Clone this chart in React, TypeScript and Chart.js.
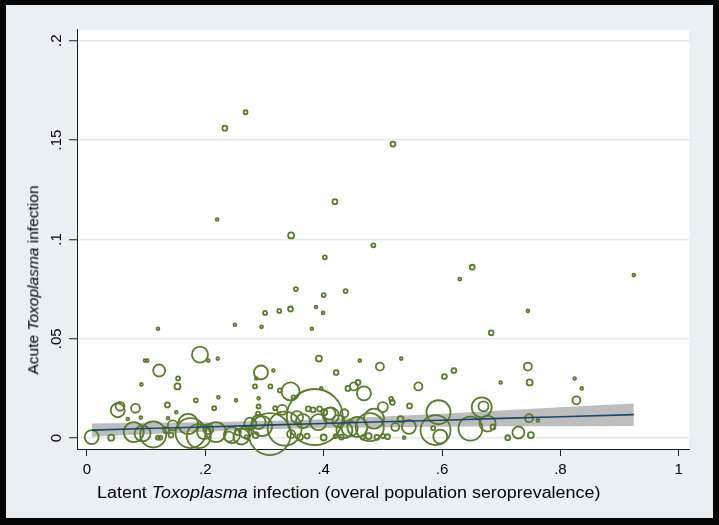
import React, { useEffect, useRef } from 'react';
import { Chart, registerables } from 'chart.js';

Chart.register(...registerables);

const FONT = '"Liberation Sans", Arial, Helvetica, sans-serif';

const xTickValues = [0, 0.2, 0.4, 0.6, 0.8, 1];
const xTickLabels = ['0', '.2', '.4', '.6', '.8', '1'];
const yTickValues = [0, 0.05, 0.1, 0.15, 0.2];
const yTickLabels = ['0', '.05', '.1', '.15', '.2'];

// Latent Toxoplasma seroprevalence (x)
const seroprevalence = [
  0.268, 0.233, 0.517, 0.220, 0.419, 0.345, 0.484, 0.402, 0.924, 0.651, 0.630, 0.353, 0.400, 0.437, 0.301, 0.325, 0.344, 0.387, 0.399, 0.120, 0.250, 0.295, 0.380, 0.745, 0.683,
  0.098, 0.102, 0.191, 0.205, 0.221, 0.122, 0.154, 0.092, 0.294, 0.315, 0.286, 0.392, 0.461, 0.421, 0.495, 0.458, 0.531, 0.745, 0.620, 0.604, 0.824, 0.153, 0.284, 0.310, 0.326, 0.344, 0.396, 0.441, 0.451, 0.560, 0.748, 0.699, 0.836,
  0.052, 0.056, 0.082, 0.069, 0.091, 0.184, 0.222, 0.215, 0.136, 0.151, 0.137, 0.252, 0.290, 0.468, 0.500, 0.545, 0.516, 0.514, 0.667, 0.670, 0.677, 0.747, 0.762, 0.827, 0.594, 0.374, 0.382, 0.393, 0.401, 0.318, 0.330, 0.290, 0.289, 0.410, 0.349,
  0.008, 0.041, 0.079, 0.094, 0.112, 0.171, 0.175, 0.189, 0.218, 0.120, 0.124, 0.142, 0.134, 0.145, 0.240, 0.198, 0.205, 0.245, 0.268, 0.276, 0.309, 0.385, 0.334, 0.296, 0.444, 0.457, 0.485, 0.478, 0.261, 0.290, 0.589, 0.597, 0.648, 0.544, 0.521, 0.585, 0.729, 0.750, 0.711, 0.508, 0.536, 0.686,
  0.391, 0.412, 0.435, 0.360, 0.372, 0.400, 0.420, 0.430, 0.345, 0.466, 0.476, 0.490, 0.500, 0.355, 0.365, 0.425, 0.435, 0.255, 0.285, 0.270, 0.530,
];

// Acute Toxoplasma infection (y)
const acuteInfection = [
  0.164, 0.156, 0.148, 0.110, 0.119, 0.102, 0.097, 0.091, 0.082, 0.086, 0.080, 0.075, 0.072, 0.074, 0.063, 0.064, 0.065, 0.066, 0.063, 0.055, 0.057, 0.056, 0.055, 0.064, 0.053,
  0.039, 0.039, 0.042, 0.039, 0.040, 0.034, 0.030, 0.027, 0.033, 0.034, 0.030, 0.040, 0.039, 0.033, 0.036, 0.028, 0.040, 0.036, 0.034, 0.031, 0.030, 0.026, 0.026, 0.026, 0.024, 0.0235, 0.025, 0.025, 0.026, 0.026, 0.028, 0.028, 0.025,
  0.014, 0.016, 0.015, 0.0096, 0.0103, 0.019, 0.0205, 0.015, 0.0167, 0.013, 0.010, 0.019, 0.020, 0.0225, 0.0156, 0.0162, 0.018, 0.0197, 0.0155, 0.016, 0.0073, 0.010, 0.0089, 0.019, 0.013, 0.0147, 0.0142, 0.0147, 0.013, 0.015, 0.0142, 0.0159, 0.0123, 0.0123, 0.0205,
  0.0005, 0.0002, 0.003, 0.0023, 0.0018, 0.0071, 0.0025, 0.001, 0.003, 0.0002, 0.0002, 0.0015, 0.004, 0.0064, 0.0007, 0.003, 0.0045, 0.0015, 0.003, 0.0073, 0.002, 0.0106, 0.0048, 0.006, 0.0048, 0.0056, 0.0098, 0.0055, 0.0008, 0.0081, 0.004, 0.0007, 0.0048, 0.0056, 0.0056, 0.005, 0.0028, 0.0015, 0.0002, 0.0007, 0.0002, 0.0056,
  0.008, 0.0114, 0.004, 0.0005, 0.001, 0.0003, 0.001, 0.0005, 0.002, 0.0003, 0.001, 0.0004, 0.001, 0.0105, 0.0085, 0.0085, 0.0125, 0.003, 0.0015, 0.0005, 0.0095,
];

// analytic weight of each country (marker area)
const populationWeight = [
  4, 6, 6, 2, 6, 9, 4, 4, 2, 6, 2, 4, 4, 4, 4, 4, 6, 2, 2, 2, 2, 2, 2, 2, 6,
  2, 2, 64, 2, 2, 36, 4, 2, 49, 2, 2, 9, 2, 6, 16, 6, 2, 16, 6, 6, 2, 9, 4, 4, 4, 81, 2, 6, 16, 16, 9, 2, 2,
  49, 20, 20, 2, 2, 4, 2, 4, 6, 2, 2, 2, 2, 49, 25, 6, 6, 4, 100, 25, 64, 16, 2, 16, 144, 6, 6, 6, 9, 4, 25, 4, 4, 36, 4,
  49, 9, 100, 64, 169, 100, 225, 144, 100, 4, 4, 6, 9, 25, 25, 49, 25, 64, 36, 36, 441, 784, 289, 100, 64, 100, 100, 196, 64, 49, 225, 49, 144, 49, 16, 4, 36, 9, 6, 6, 2, 6,
  64, 64, 64, 9, 6, 9, 4, 6, 16, 4, 9, 6, 4, 36, 49, 36, 16, 9, 9, 4, 9,
];

// linear fit with 95% CI
const fitX = [0.008, 0.1, 0.2, 0.3, 0.4, 0.5, 0.6, 0.7, 0.8, 0.924];
const fitY = [0.0040, 0.0048, 0.0056, 0.0065, 0.0073, 0.0082, 0.0090, 0.0099, 0.0107, 0.0118];
const ciLow = [0.0007, 0.0019, 0.0032, 0.0044, 0.0051, 0.0055, 0.0057, 0.0059, 0.0060, 0.0061];
const ciHigh = [0.0073, 0.0077, 0.0080, 0.0086, 0.0095, 0.0108, 0.0123, 0.0139, 0.0155, 0.0174];

const X_MIN = -0.0168;
const X_MAX = 1.0176;
const Y_MIN = -0.0055;
const Y_MAX = 0.2055;

const OLIVE = '#5a7a2e';
const NAVY = '#1a476f';
const BAND = '#bdbdbd';
const GRID = '#e3eaed';
const AXIS = '#1e1e1e';
const FRAME_BG = '#e9eff2';

const plotBg = {
  id: 'plotBg',
  beforeDraw(chart: any) {
    const { ctx, chartArea: a } = chart;
    ctx.save();
    ctx.fillStyle = '#ffffff';
    ctx.fillRect(a.left, a.top, a.right - a.left, a.bottom - a.top);
    ctx.restore();
  },
};

export default function App() {
  const ref = useRef<HTMLCanvasElement | null>(null);

  useEffect(() => {
    if (!ref.current) return;
    const bubbles = seroprevalence.map((x, i) => ({
      x,
      y: acuteInfection[i],
      r: Math.sqrt(populationWeight[i]),
    }));
    const chart = new Chart(ref.current, {
      type: 'scatter',
      data: {
        datasets: [
          {
            type: 'line',
            label: 'ci low',
            data: fitX.map((x, i) => ({ x, y: ciLow[i] })),
            borderColor: 'rgba(0,0,0,0)',
            borderWidth: 0,
            pointRadius: 0,
            fill: false,
            order: 3,
          } as any,
          {
            type: 'line',
            label: 'ci high',
            data: fitX.map((x, i) => ({ x, y: ciHigh[i] })),
            borderColor: 'rgba(0,0,0,0)',
            borderWidth: 0,
            pointRadius: 0,
            fill: '-1',
            backgroundColor: BAND,
            order: 3,
          } as any,
          {
            type: 'bubble',
            label: 'countries',
            data: bubbles,
            borderColor: OLIVE,
            backgroundColor: 'rgba(0,0,0,0)',
            borderWidth: 1.8,
            clip: false,
            order: 2,
          } as any,
          {
            type: 'line',
            label: 'fit',
            data: fitX.map((x, i) => ({ x, y: fitY[i] })),
            borderColor: NAVY,
            borderWidth: 1.6,
            pointRadius: 0,
            fill: false,
            order: 1,
          } as any,
        ],
      },
      options: {
        animation: false,
        responsive: false,
        events: [],
        layout: { padding: { left: 0, right: 25, top: 24, bottom: 0 } },
        plugins: {
          legend: { display: false },
          tooltip: { enabled: false },
          title: { display: false },
        },
        scales: {
          x: {
            type: 'linear',
            min: X_MIN,
            max: X_MAX,
            afterBuildTicks: (s: any) => {
              s.ticks = xTickValues.map((v) => ({ value: v }));
            },
            afterFit: (s: any) => {
              s.height = 76;
            },
            ticks: {
              autoSkip: false,
              maxRotation: 0,
              padding: 5,
              color: '#000',
              font: { family: FONT, size: 15 },
              callback: (_v: any, i: number) => xTickLabels[i],
            },
            grid: {
              drawOnChartArea: false,
              drawTicks: true,
              tickLength: 7,
              tickColor: AXIS,
              tickWidth: 1,
            },
            border: { display: true, color: AXIS, width: 1 },
          },
          y: {
            type: 'linear',
            min: Y_MIN,
            max: Y_MAX,
            afterBuildTicks: (s: any) => {
              s.ticks = yTickValues.map((v) => ({ value: v }));
            },
            afterFit: (s: any) => {
              s.width = 77;
            },
            ticks: {
              autoSkip: false,
              minRotation: 90,
              maxRotation: 90,
              crossAlign: 'center',
              padding: 2,
              color: '#000',
              font: { family: FONT, size: 15 },
              callback: (_v: any, i: number) => yTickLabels[i],
            },
            grid: {
              color: GRID,
              lineWidth: 1.5,
              drawTicks: true,
              tickLength: 8,
              tickColor: AXIS,
              tickWidth: 1,
            },
            border: { display: true, color: AXIS, width: 1 },
          },
        },
      } as any,
      plugins: [plotBg],
    });
    return () => chart.destroy();
  }, []);

  return (
    <div style={{ position: 'absolute', left: 0, top: 0, width: 719, height: 525, background: '#050505', overflow: 'hidden' }}>
      <div style={{ position: 'absolute', left: 6, top: 5, width: 707, height: 513, background: FRAME_BG }} />
      <canvas ref={ref} width={719} height={525} style={{ position: 'absolute', left: 0, top: 0, width: 719, height: 525 }} />
      <div
        style={{
          position: 'absolute',
          left: 33,
          top: 280,
          transform: 'translate(-50%, -50%) rotate(-90deg)',
          whiteSpace: 'nowrap',
          fontFamily: FONT,
          fontSize: 15.5,
          lineHeight: 1,
          color: '#000',
        }}
      >
        Acute <i>Toxoplasma</i> infection
      </div>
      <div
        style={{
          position: 'absolute',
          left: 97,
          top: 485,
          transform: 'scaleX(1.12)',
          transformOrigin: '0 0',
          whiteSpace: 'nowrap',
          fontFamily: FONT,
          fontSize: 16,
          lineHeight: 1,
          color: '#000',
        }}
      >
        Latent <i>Toxoplasma</i> infection (overal population seroprevalence)
      </div>
    </div>
  );
}
